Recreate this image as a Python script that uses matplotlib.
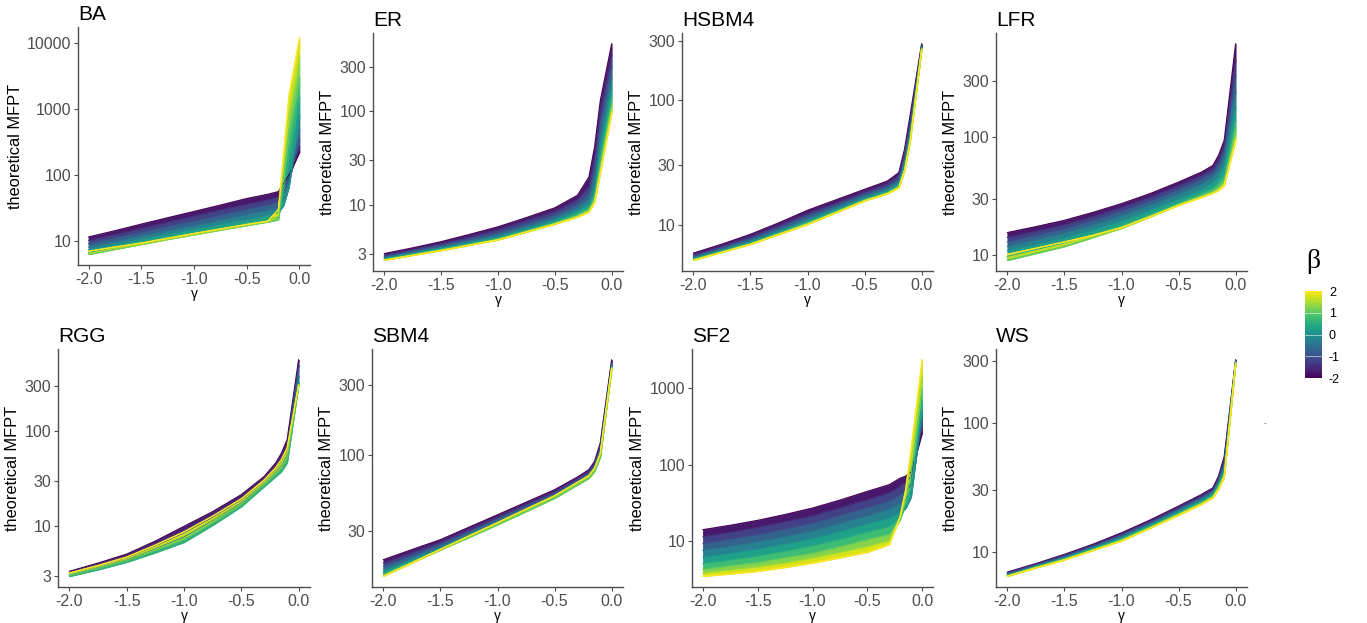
import numpy as np
import matplotlib
matplotlib.use('Agg')
import matplotlib.pyplot as plt
from matplotlib import cm, colors

plt.rcParams['font.family'] = ['Liberation Sans', 'DejaVu Sans']

# gamma grid and beta values (one curve per beta)
gamma = [-2.0, -1.75, -1.5, -1.25, -1.0, -0.75, -0.5, -0.3, -0.2, -0.15, -0.1, 0.0]
betas = [-2.0, -1.5, -1.0, -0.5, 0.0, 0.5, 1.0, 1.5, 2.0]

# theoretical MFPT, rows = beta, cols = gamma
ba = [[11.5, 14.3, 18, 22.5, 28, 35, 44, 51, 56, 75, 100, 223],
      [10.2, 12.5, 15.5, 19.3, 24, 29.5, 36, 42, 47, 65, 90, 270],
      [9.1, 11.1, 13.5, 16.5, 20, 24.5, 30, 35, 39, 55, 82, 350],
      [8.1, 9.8, 11.8, 14.2, 17, 20.6, 25, 29, 32, 45, 74, 500],
      [7.3, 8.8, 10.5, 12.6, 15, 17.8, 21, 24.5, 27, 35, 66, 800],
      [6.7, 8.0, 9.5, 11.3, 13.3, 15.7, 18.5, 21, 23, 60, 200, 1500],
      [6.3, 7.5, 8.9, 10.6, 12.5, 14.7, 17.2, 19.5, 21, 95, 450, 3000],
      [6.5, 7.7, 9.0, 10.7, 12.6, 14.9, 17.5, 19.8, 24, 150, 900, 6500],
      [7.0, 8.1, 9.3, 11.0, 13.0, 15.2, 17.8, 20, 30, 210, 1600, 12000]]
er = [[3.06, 3.52, 4.1, 4.9, 5.9, 7.4, 9.4, 12.8, 20, 42, 130, 525],
      [2.95, 3.38, 3.9, 4.6, 5.5, 6.9, 8.6, 11.5, 16, 32, 100, 400],
      [2.85, 3.26, 3.75, 4.35, 5.1, 6.3, 7.9, 10.3, 13.5, 24, 75, 300],
      [2.78, 3.16, 3.6, 4.15, 4.8, 5.9, 7.3, 9.4, 11.5, 18.5, 55, 230],
      [2.72, 3.08, 3.5, 4.0, 4.6, 5.6, 6.9, 8.7, 10.3, 15, 42, 180],
      [2.67, 3.02, 3.42, 3.9, 4.45, 5.4, 6.6, 8.2, 9.5, 13, 33, 145],
      [2.63, 2.97, 3.36, 3.82, 4.35, 5.3, 6.45, 7.8, 9.0, 11.8, 27, 120],
      [2.61, 2.95, 3.32, 3.78, 4.3, 5.2, 6.35, 7.6, 8.7, 11.1, 24, 105],
      [2.6, 2.94, 3.3, 3.76, 4.3, 5.2, 6.3, 7.5, 8.5, 10.8, 22, 95]]
hsbm4 = [[5.93, 7.0, 8.4, 10.4, 13.1, 15.9, 19.3, 22.5, 26.3, 40.5, 77, 285],
         [5.75, 6.75, 8.05, 9.9, 12.4, 15.0, 18.4, 21.4, 25, 37.5, 70, 280],
         [5.6, 6.55, 7.75, 9.5, 11.8, 14.4, 17.6, 20.4, 23.5, 35, 63, 275],
         [5.48, 6.38, 7.5, 9.1, 11.2, 13.8, 17, 19.6, 22.3, 32.5, 58, 270],
         [5.38, 6.25, 7.3, 8.85, 10.8, 13.3, 16.4, 18.9, 21.4, 30.5, 54, 266],
         [5.3, 6.15, 7.15, 8.65, 10.5, 12.95, 16, 18.4, 20.8, 29, 51, 263],
         [5.25, 6.08, 7.05, 8.5, 10.3, 12.75, 15.8, 18.1, 20.3, 28, 49, 260],
         [5.22, 6.05, 7.0, 8.42, 10.15, 12.6, 15.7, 17.9, 20.0, 27.5, 48, 259],
         [5.2, 6.03, 7.0, 8.4, 10.1, 12.55, 15.6, 17.8, 19.9, 27.1, 47, 258]]
lfr = [[15.6, 17.5, 19.8, 23.1, 27.4, 33.3, 41.7, 50.6, 57.6, 70, 94, 616],
       [14.2, 16.0, 18.2, 21.3, 25.5, 31.1, 39, 47.5, 54, 64, 85, 450],
       [13, 14.7, 16.8, 19.7, 23.5, 28.8, 36, 44, 50, 58, 75, 330],
       [11.9, 13.5, 15.4, 18.1, 21.5, 26.5, 33, 40, 46, 52, 66, 240],
       [10.9, 12.3, 14.0, 16.4, 19.5, 24.1, 30, 36, 41, 46, 57, 180],
       [9.8, 11.2, 12.8, 15.1, 18, 22.3, 28, 33.5, 37, 41, 48, 140],
       [9.1, 10.4, 11.9, 14.2, 17, 21.3, 27, 32, 35, 38, 43, 115],
       [9.5, 10.8, 12.3, 14.4, 17, 21.2, 26.7, 31.3, 34, 36.5, 40, 100],
       [10.2, 11.5, 13.0, 14.8, 17.2, 21.3, 26.5, 31, 33.6, 35.5, 39, 93]]
rgg = [[3.36, 4.1, 5.1, 7.0, 10.0, 14.3, 21.6, 33.6, 46.6, 59, 82, 570],
       [3.29, 3.97, 4.89, 6.62, 9.25, 13.4, 20.4, 32.0, 43.7, 54, 73, 506],
       [3.21, 3.85, 4.71, 6.26, 8.57, 12.5, 19.2, 30.5, 40.9, 49.4, 65.5, 450],
       [3.11, 3.70, 4.49, 5.84, 7.78, 11.6, 17.9, 28.7, 37.7, 44.3, 57, 388],
       [3.02, 3.57, 4.30, 5.48, 7.12, 10.7, 16.8, 27.2, 34.9, 40.1, 50.2, 338],
       [2.98, 3.5, 4.2, 5.3, 6.8, 10.3, 16.2, 26.4, 33.6, 38, 47, 315],
       [3.03, 3.58, 4.32, 5.52, 7.2, 10.8, 16.9, 27.4, 35.3, 40.6, 51, 310],
       [3.13, 3.73, 4.53, 5.92, 7.94, 11.75, 18.2, 29.0, 38.3, 45.3, 58.7, 310],
       [3.23, 3.87, 4.75, 6.35, 8.74, 12.8, 19.5, 30.8, 41.6, 50.5, 67, 310]]
sbm4 = [[19.2, 22.5, 26.3, 32.0, 38.9, 47.4, 57.7, 70.4, 79, 90, 120, 445],
        [18.2, 21.5, 25.3, 30.8, 37.6, 45.9, 56, 68.5, 77, 87.5, 115, 430],
        [17.3, 20.5, 24.4, 29.8, 36.4, 44.5, 54.5, 66.8, 75, 85, 110, 420],
        [16.5, 19.7, 23.6, 28.9, 35.3, 43.3, 53, 65.2, 73, 82.5, 105, 410],
        [15.9, 19.1, 23, 28.1, 34.4, 42.2, 51.8, 63.8, 71, 80, 100, 400],
        [15.4, 18.6, 22.6, 27.6, 33.6, 41.3, 50.8, 62.6, 69.5, 78, 97, 395],
        [15.1, 18.4, 22.4, 27.3, 33.3, 41.0, 50.6, 62.4, 69.3, 77, 97, 392],
        [14.9, 18.3, 22.5, 27.6, 33.8, 41.7, 51.5, 63.5, 70.5, 79, 99, 390],
        [14.8, 18.3, 22.6, 27.9, 34.4, 42.5, 52.5, 64.8, 72, 81, 102, 390]]
sf2 = [[14.2, 16.2, 18.8, 22.4, 27.2, 34.5, 44.9, 54.9, 66.8, 71, 80, 260],
       [11.5, 13.1, 15.2, 18.0, 21.5, 27.3, 35, 43, 52, 60, 70, 300],
       [9.3, 10.6, 12.2, 14.4, 17.2, 21.6, 27.5, 33.5, 40, 46, 55, 360],
       [7.6, 8.6, 9.8, 11.5, 13.6, 17.0, 21.5, 26, 31, 35, 45, 430],
       [6.2, 7.0, 7.9, 9.2, 10.8, 13.4, 16.8, 20, 24, 27, 38, 520],
       [5.1, 5.7, 6.4, 7.4, 8.7, 10.6, 13.2, 15.6, 20, 30, 50, 700],
       [4.3, 4.8, 5.3, 6.1, 7.0, 8.5, 10.5, 12.3, 19, 35, 75, 1000],
       [3.8, 4.2, 4.6, 5.2, 6.0, 7.1, 8.5, 10.2, 20, 40, 110, 1500],
       [3.5, 3.75, 4.06, 4.57, 5.2, 6.1, 7.2, 9.05, 21.2, 47, 160, 2350]]
ws = [[7.0, 8.15, 9.6, 11.5, 14.1, 17.7, 22.7, 27.9, 31.4, 38.7, 55, 308],
      [6.9, 8.05, 9.45, 11.3, 13.8, 17.3, 22.2, 27.2, 30.6, 37.5, 52, 305],
      [6.8, 7.95, 9.3, 11.1, 13.5, 16.9, 21.6, 26.5, 29.8, 36, 49, 302],
      [6.72, 7.85, 9.15, 10.9, 13.2, 16.5, 21.1, 25.8, 29.0, 35, 46, 299],
      [6.65, 7.77, 9.0, 10.75, 12.9, 16.2, 20.6, 25.1, 28.3, 34, 44, 297],
      [6.6, 7.7, 8.9, 10.6, 12.65, 15.9, 20.1, 24.5, 27.6, 33, 42, 295],
      [6.55, 7.63, 8.8, 10.45, 12.45, 15.6, 19.75, 24.0, 27.0, 32, 40, 293],
      [6.52, 7.59, 8.75, 10.35, 12.3, 15.4, 19.5, 23.7, 26.6, 31.2, 39, 291],
      [6.5, 7.55, 8.7, 10.3, 12.2, 15.3, 19.3, 23.4, 26.3, 30.6, 38, 290]]

names = ['BA', 'ER', 'HSBM4', 'LFR', 'RGG', 'SBM4', 'SF2', 'WS']
tables = [ba, er, hsbm4, lfr, rgg, sbm4, sf2, ws]
yticks = [[10, 100, 1000, 10000], [3, 10, 30, 100, 300], [10, 30, 100, 300],
          [10, 30, 100, 300], [3, 10, 30, 100, 300], [30, 100, 300],
          [10, 100, 1000], [10, 30, 100, 300]]
xticks = [-2.0, -1.5, -1.0, -0.5, 0.0]
xticklabels = ['-2.0', '-1.5', '-1.0', '-0.5', '0.0']

# panel boxes in pixels: left, right, top, bottom
W, H = 1367, 623
boxes = [(78, 310, 27, 265), (373, 623, 33, 271), (682, 933, 33, 271), (996, 1247, 33, 271),
         (58, 310, 349, 587), (372, 623, 349, 587), (692, 933, 349, 587), (996, 1247, 349, 587)]

cmap = matplotlib.colormaps['viridis']
norm = colors.Normalize(vmin=-2, vmax=2)
grey = '#4d4d4d'

fig = plt.figure(figsize=(W / 100, H / 100), dpi=100)

for name, tab, yt, (l, r, t, b) in zip(names, tables, yticks, boxes):
    ax = fig.add_axes([l / W, 1 - b / H, (r - l) / W, (b - t) / H])
    tab = np.array(tab, dtype=float)
    # draw from beta=-2 upwards so later (yellow) curves sit on top, as in the original
    for i in range(len(betas)):
        ax.plot(gamma, tab[i], color=cmap(norm(betas[i])), lw=0.8)
        if i < len(betas) - 1:
            c = cmap(norm((betas[i] + betas[i + 1]) / 2))
            ax.fill_between(gamma, tab[i], tab[i + 1], color=c, lw=0.6, edgecolor=c)
    ax.plot(gamma, tab[-1], color=cmap(norm(betas[-1])), lw=0.8)
    ax.set_yscale('log')
    ax.margins(x=0.05, y=0.05)
    ax.set_yticks(yt)
    ax.set_yticklabels([str(v) for v in yt])
    ax.minorticks_off()
    ax.set_xticks(xticks)
    ax.set_xticklabels(xticklabels)
    ax.tick_params(labelsize=11.5, colors=grey, length=3, width=0.8, pad=2)
    for s in ['top', 'right']:
        ax.spines[s].set_visible(False)
    for s in ['left', 'bottom']:
        ax.spines[s].set_color(grey)
        ax.spines[s].set_linewidth(1.0)
    ax.set_ylabel('theoretical MFPT', fontsize=11.8, labelpad=3)
    ax.set_xlabel('γ', fontsize=10, labelpad=0)
    ax.set_title(name, loc='left', fontsize=15, pad=5)

# colour bar
cax = fig.add_axes([1305 / W, 1 - 378 / H, 17 / W, 87 / H])
cb = fig.colorbar(cm.ScalarMappable(norm=norm, cmap=cmap), cax=cax, ticks=[-2, -1, 0, 1, 2])
cb.outline.set_visible(False)
cb.ax.set_yticklabels(['-2', '-1', '0', '1', '2'])
cb.ax.tick_params(length=0, labelsize=9, pad=5)
for v in [-1, 0, 1]:
    cb.ax.axhline(v, color='white', lw=0.6, alpha=0.6)
fig.text(1313 / W, 1 - 262 / H, 'β', fontsize=20, family='Liberation Serif',
         ha='center', va='center')
fig.text(1265 / W, 1 - 424 / H, '-', fontsize=6, color=grey, ha='center', va='center')

fig.savefig('out.png', dpi=100)
